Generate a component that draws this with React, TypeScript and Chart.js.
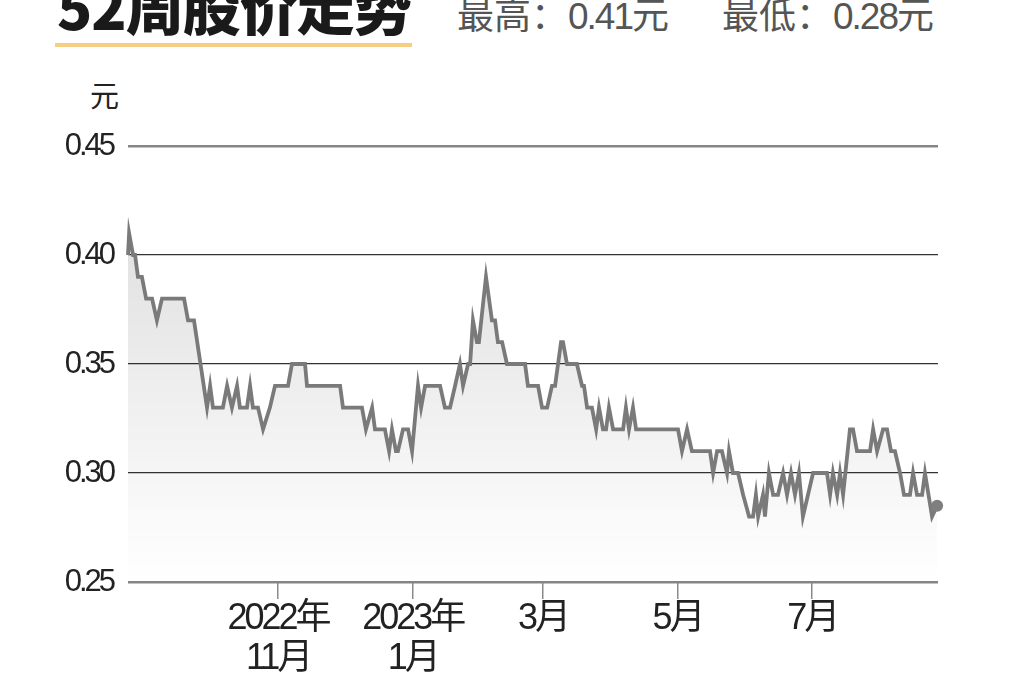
import React, { useEffect, useRef } from 'react';
import Chart from 'chart.js/auto';

// 52 weeks, day offsets counted from the first trading day on the chart
const startDate = '2022-08-25';
const axisDays = 367;

const priceDays = [
  0, 0.5, 2.3, 3.2, 4.5, 6.3, 8.2, 10.9, 13.1, 15.4,
  25.4, 27.2, 29.9, 35.8, 37.2, 38.5, 43.0, 44.9, 47.1, 49.4,
  50.7, 53.9, 55.3, 56.6, 58.9, 61.2, 64.3, 66.6, 72.5, 74.3,
  80.2, 81.1, 96.1, 97.4, 106.0, 107.8, 110.6, 111.9, 116.4, 118.3,
  119.6, 121.4, 122.3, 124.6, 126.9, 128.7, 131.4, 132.8, 134.6, 141.4,
  143.6, 145.9, 148.2, 150.4, 151.8, 154.1, 155.0, 156.3, 158.1, 159.0,
  162.2, 164.9, 166.3, 167.6, 169.5, 171.7, 179.9, 181.2, 185.8, 187.6,
  189.9, 192.1, 193.5, 196.2, 197.1, 198.9, 203.4, 205.7, 206.6, 208.0,
  210.2, 212.1, 213.4, 215.2, 216.6, 217.9, 219.8, 224.3, 225.6, 227.0,
  228.8, 230.2, 249.2, 251.0, 253.3, 255.5, 263.7, 265.1, 266.9, 269.1,
  271.4, 272.3, 274.1, 276.4, 278.7, 281.4, 283.2, 284.5, 285.5, 287.7,
  288.6, 290.4, 292.3, 294.5, 296.8, 298.6, 300.4, 302.2, 304.0, 305.8,
  308.1, 310.4, 316.7, 318.1, 319.4, 321.3, 322.6, 324.0, 327.1, 328.5,
  330.3, 336.2, 337.6, 339.4, 342.1, 343.9, 345.7, 347.5, 349.8, 351.6,
  354.3, 355.7, 357.5, 359.8, 361.1, 364.3, 366.6,
];

const prices = [
  0.40, 0.41, 0.40, 0.40, 0.39, 0.39, 0.38, 0.38, 0.37, 0.38,
  0.38, 0.37, 0.37, 0.33, 0.34, 0.33, 0.33, 0.34, 0.33, 0.34,
  0.33, 0.33, 0.34, 0.33, 0.33, 0.32, 0.33, 0.34, 0.34, 0.35,
  0.35, 0.34, 0.34, 0.33, 0.33, 0.32, 0.33, 0.32, 0.32, 0.31,
  0.32, 0.31, 0.31, 0.32, 0.32, 0.31, 0.34, 0.33, 0.34, 0.34,
  0.33, 0.33, 0.34, 0.35, 0.34, 0.35, 0.35, 0.37, 0.36, 0.36,
  0.39, 0.37, 0.37, 0.36, 0.36, 0.35, 0.35, 0.34, 0.34, 0.33,
  0.33, 0.34, 0.34, 0.36, 0.36, 0.35, 0.35, 0.34, 0.34, 0.33,
  0.33, 0.32, 0.33, 0.32, 0.32, 0.33, 0.32, 0.32, 0.33, 0.32,
  0.33, 0.32, 0.32, 0.31, 0.32, 0.31, 0.31, 0.30, 0.31, 0.31,
  0.30, 0.31, 0.30, 0.30, 0.29, 0.28, 0.28, 0.29, 0.28, 0.29,
  0.28, 0.30, 0.29, 0.29, 0.30, 0.29, 0.30, 0.29, 0.30, 0.28,
  0.29, 0.30, 0.30, 0.29, 0.30, 0.29, 0.30, 0.29, 0.32, 0.32,
  0.31, 0.31, 0.32, 0.31, 0.32, 0.32, 0.31, 0.31, 0.30, 0.29,
  0.29, 0.30, 0.29, 0.29, 0.30, 0.28, 0.285,
];

const tickDates = ['2022-11-01', '2023-01-01', '2023-03-01', '2023-05-01', '2023-07-01'];
const tickLabels: (string | string[])[] = [['2022年', '11月'], ['2023年', '1月'], '3月', '5月', '7月'];

const yMin = 0.25;
const yMax = 0.45;
const yStep = 0.05;

const highLabel = '最高：';
const highValue = '0.41';
const lowLabel = '最低：';
const lowValue = '0.28';

const numFont = "'Liberation Sans', 'Noto Sans CJK SC', sans-serif";

const dayOf = (d: string) =>
  Math.round((Date.parse(d + 'T00:00:00Z') - Date.parse(startDate + 'T00:00:00Z')) / 86400000);

const tickDays = tickDates.map(dayOf);

// squeeze the digits a little, the original uses a condensed face
const condensedText = {
  id: 'condensedText',
  beforeLayout(chart: any) {
    chart.ctx.letterSpacing = '-3px';
  },
  beforeDraw(chart: any) {
    chart.ctx.letterSpacing = '-3px';
  },
};

const PriceChart: React.FC = () => {
  const canvasRef = useRef<HTMLCanvasElement>(null);
  const chartRef = useRef<Chart | null>(null);

  useEffect(() => {
    if (!canvasRef.current) return;
    if (chartRef.current) chartRef.current.destroy();
    const ctx = canvasRef.current.getContext('2d');
    if (!ctx) return;

    const last = prices.length - 1;

    chartRef.current = new Chart(ctx, {
      type: 'line',
      plugins: [condensedText],
      data: {
        datasets: [
          {
            data: priceDays.map((d, i) => ({ x: d, y: prices[i] })),
            borderColor: '#7a7a7a',
            borderWidth: 3.8,
            tension: 0,
            fill: 'start',
            clip: false,
            backgroundColor: (c: any) => {
              const area = c.chart.chartArea;
              if (!area) return 'rgba(0,0,0,0)';
              const g = c.chart.ctx.createLinearGradient(0, area.top, 0, area.bottom);
              g.addColorStop(0, 'rgba(0,0,0,0.15)');
              g.addColorStop(1, 'rgba(0,0,0,0)');
              return g;
            },
            pointRadius: (c: any) => (c.dataIndex === last ? 6 : 0),
            pointBackgroundColor: '#7f7f7f',
            pointBorderColor: '#7f7f7f',
            pointBorderWidth: 0,
          },
        ],
      },
      options: {
        animation: false,
        responsive: true,
        maintainAspectRatio: false,
        layout: { padding: { top: 146, right: 86, left: 0, bottom: 0 } },
        plugins: {
          legend: { display: false },
          tooltip: { enabled: false },
        },
        scales: {
          x: {
            type: 'linear',
            min: 0,
            max: axisDays,
            afterBuildTicks: (scale: any) => {
              scale.ticks = tickDays.map(v => ({ value: v }));
            },
            afterFit: (scale: any) => {
              scale.height = 100;
            },
            ticks: {
              autoSkip: false,
              maxRotation: 0,
              padding: 0,
              color: '#222',
              font: { family: numFont, size: 36, lineHeight: 1.12 },
              callback: (_v: any, i: number) => tickLabels[i],
            },
            grid: {
              drawOnChartArea: false,
              drawTicks: true,
              tickLength: 17,
              color: '#8a8a8a',
              lineWidth: 1.5,
            },
            border: { display: false },
          },
          y: {
            min: yMin,
            max: yMax,
            afterFit: (scale: any) => {
              scale.width = 128;
            },
            ticks: {
              stepSize: yStep,
              padding: 15,
              color: '#222',
              font: { family: numFont, size: 31 },
              callback: (v: any) => Number(v).toFixed(2),
            },
            grid: {
              drawTicks: false,
              color: (c: any) => {
                const v = c.tick ? c.tick.value : 0;
                return Math.abs(v - yMin) < 1e-6 || Math.abs(v - yMax) < 1e-6 ? '#858585' : '#333';
              },
              lineWidth: (c: any) => {
                const v = c.tick ? c.tick.value : 0;
                return Math.abs(v - yMin) < 1e-6 || Math.abs(v - yMax) < 1e-6 ? 2.5 : 1.3;
              },
            },
            border: { display: false },
          },
        },
      },
    });

    return () => {
      if (chartRef.current) {
        chartRef.current.destroy();
        chartRef.current = null;
      }
    };
  }, []);

  return <canvas ref={canvasRef}></canvas>;
};

const statStyle: React.CSSProperties = {
  position: 'absolute',
  top: -5,
  fontSize: 37,
  lineHeight: 1,
  color: '#555',
  whiteSpace: 'nowrap',
};

const digitStyle: React.CSSProperties = {
  fontFamily: numFont,
  letterSpacing: -2,
  fontWeight: 300,
};

const App: React.FC = () => {
  return (
    <div
      style={{
        position: 'fixed',
        left: 0,
        top: 0,
        width: 1024,
        height: 682,
        background: '#fff',
        overflow: 'hidden',
        fontFamily: "'Noto Sans CJK SC', sans-serif",
      }}
    >
      <div
        style={{
          position: 'absolute',
          left: 57,
          top: -24,
          fontSize: 58,
          lineHeight: 1,
          fontWeight: 900,
          color: '#1a1a1a',
          letterSpacing: -1,
          whiteSpace: 'nowrap',
        }}
      >
        52周股价走势
      </div>
      <div style={{ position: 'absolute', left: 55, top: 43, width: 357, height: 4, background: '#f6cf82' }} />
      <div style={{ ...statStyle, left: 457 }}>
        {highLabel}
        <span style={digitStyle}>{highValue}</span>元
      </div>
      <div style={{ ...statStyle, left: 722 }}>
        {lowLabel}
        <span style={digitStyle}>{lowValue}</span>元
      </div>
      <div style={{ position: 'absolute', left: 90, top: 80, fontSize: 29, lineHeight: 1, color: '#222' }}>元</div>
      <div style={{ position: 'absolute', left: 0, top: 0, width: 1024, height: 682 }}>
        <PriceChart />
      </div>
    </div>
  );
};

export default App;
